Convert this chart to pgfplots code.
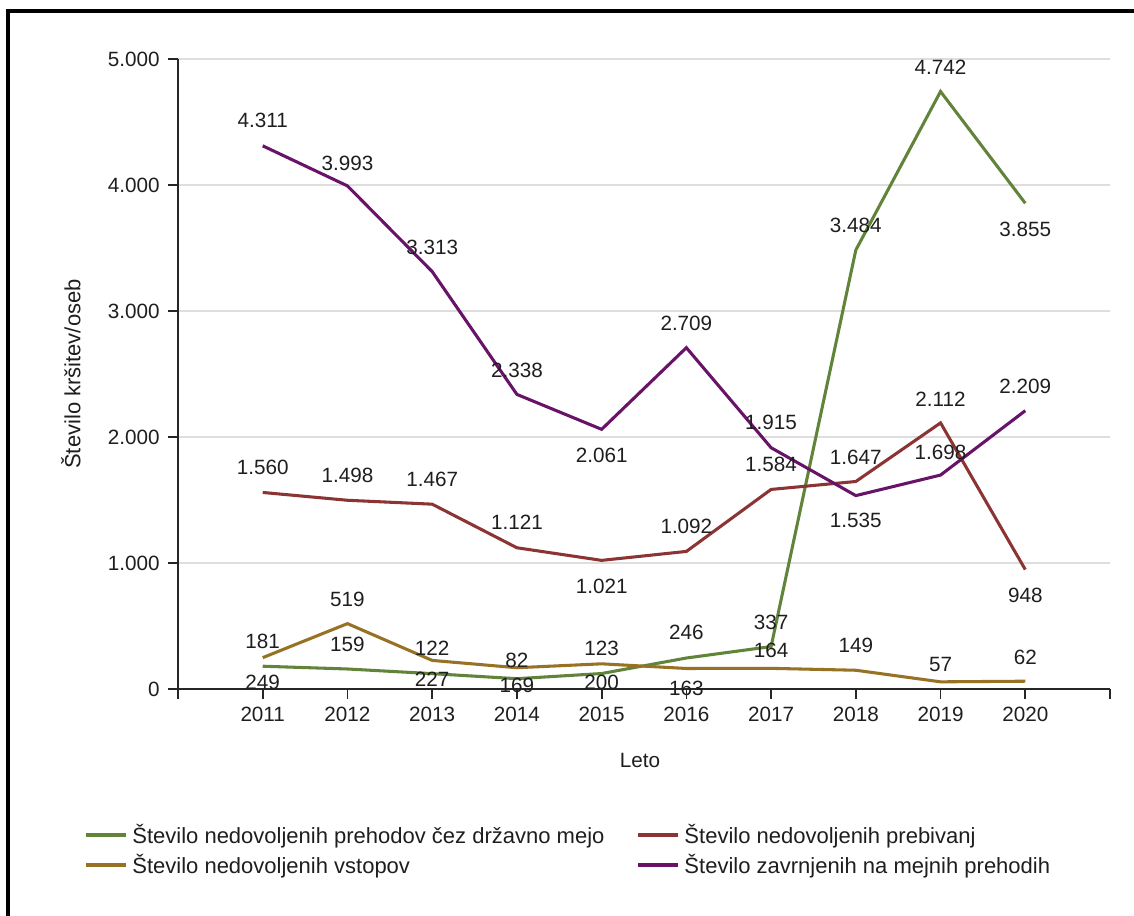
\documentclass[border=0pt]{standalone}
\usepackage{pgfplots}
\pgfplotsset{compat=1.18}
\usepackage{pgfplotstable}
\usepackage{fontspec}
\setmainfont{Liberation Sans}
\definecolor{cgreen}{RGB}{98,132,58}
\definecolor{cred}{RGB}{140,52,52}
\definecolor{cgold}{RGB}{152,114,36}
\definecolor{cpurple}{RGB}{104,18,104}
\definecolor{ctext}{RGB}{30,30,30}

\pgfplotstableread{
x y dy
2011 181 25
2012 159 25
2013 122 25
2014 82 18
2015 123 25
2016 246 26
2017 337 24
2018 3484 24.5
2019 4742 24
2020 3855 -26
}\tgreen
\pgfplotstableread{
x y dy
2011 1560 25
2012 1498 25
2013 1467 25
2014 1121 25
2015 1021 -26
2016 1092 25
2017 1584 25
2018 1647 24
2019 2112 24
2020 948 -25.5
}\tred
\pgfplotstableread{
x y dy
2011 249 -25
2012 519 24
2013 227 -18.5
2014 169 -18
2015 200 -19
2016 163 -20
2017 164 17.5
2018 149 24.5
2019 57 17
2020 62 24
}\tgold
\pgfplotstableread{
x y dy
2011 4311 25
2012 3993 23
2013 3313 24
2014 2338 24
2015 2061 -26
2016 2709 24
2017 1915 25
2018 1535 -25
2019 1698 23
2020 2209 24
}\tpurple

\begin{document}
\fontsize{15.5}{18}\selectfont
\begin{tikzpicture}
\begin{scope}[x=0.75pt,y=-0.75pt]
\useasboundingbox (0,0) rectangle (1134,915);
\draw[line width=2.4pt, black] (8,916) -- (8,11) -- (1135,11);
\end{scope}
\begin{axis}[
  at={(133.5pt,-516.75pt)}, anchor=south west,
  scale only axis, width=699pt, height=472.5pt,
  xmin=2010, xmax=2021, ymin=0, ymax=5000,
  axis x line*=bottom, axis y line*=left,
  axis line style={line width=1.3pt, color=black!85},
  xtick={2010,2011,2012,2013,2014,2015,2016,2017,2018,2019,2020,2021},
  xticklabels={,2011,2012,2013,2014,2015,2016,2017,2018,2019,2020,},
  ytick={0,1000,2000,3000,4000,5000},
  scaled y ticks=false,
  /pgf/number format/.cd, 1000 sep={.}, assume math mode=true, /pgfplots/.cd,
  tick align=outside, major tick length=7.5pt,
  tick style={line width=1.3pt, color=black!85},
  ymajorgrids, grid style={line width=1.5pt, color=black!13},
  tick label style={color=ctext},
  xticklabel style={yshift=-1pt},
  yticklabel style={xshift=-1pt},
  xlabel={Leto}, ylabel={Število kršitev/oseb},
  xlabel style={at={(axis description cs:0.4957,-0.1127)}, anchor=center, color=ctext},
  ylabel style={at={(axis description cs:-0.1150,0.5)}, anchor=center, color=ctext, font=\fontsize{16.5}{19}\selectfont},
  clip=false,
  every axis plot/.append style={line width=2.3pt},
  nodes near coords,
  visualization depends on={\thisrow{dy} \as \dy},
  every node near coord/.append style={anchor=center, yshift={\dy*0.75pt}, color=ctext, inner sep=0pt},
  legend columns=2,
  legend cell align=left,
  legend style={draw=none, fill=none, at={(axis description cs:-0.105,-0.205)}, anchor=north west,
    /tikz/every odd column/.append style={column sep=1pt},
    /tikz/every even column/.append style={column sep=22pt},
    row sep=2pt, font=\fontsize{16.5}{19}\selectfont, text=ctext},
  legend image code/.code={\draw[line width=3pt,#1] (0pt,0pt) -- (30pt,0pt);},
]
\addplot[cgreen, no marks] table[x=x,y=y] {\tgreen};
\addlegendentry{Število nedovoljenih prehodov čez državno mejo}
\addplot[cred, no marks] table[x=x,y=y] {\tred};
\addlegendentry{Število nedovoljenih prebivanj}
\addplot[cgold, no marks] table[x=x,y=y] {\tgold};
\addlegendentry{Število nedovoljenih vstopov}
\addplot[cpurple, no marks] table[x=x,y=y] {\tpurple};
\addlegendentry{Število zavrnjenih na mejnih prehodih}
\end{axis}
\end{tikzpicture}
\end{document}
